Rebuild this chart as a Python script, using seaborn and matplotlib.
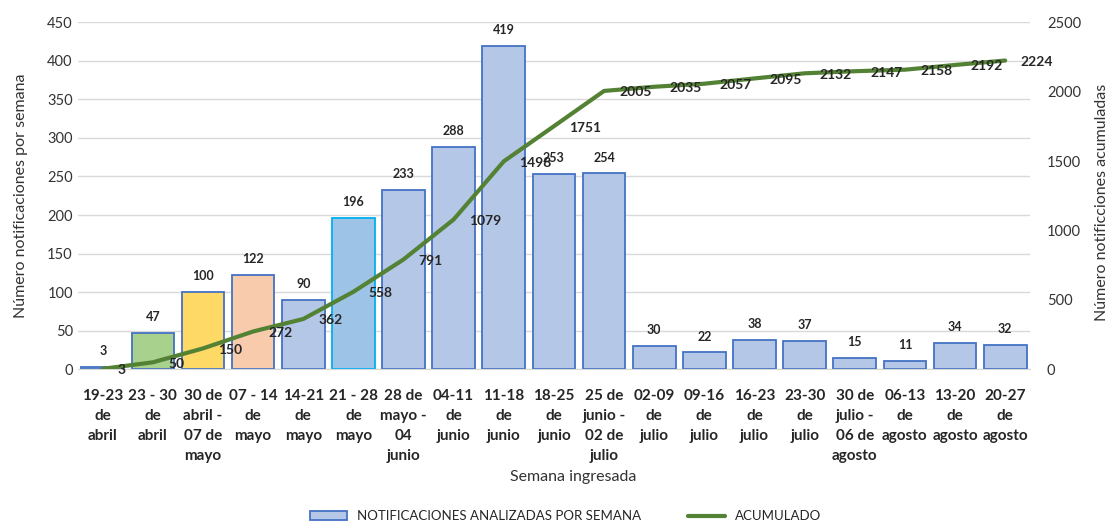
import numpy as np
import pandas as pd
import matplotlib.pyplot as plt
import seaborn as sns
from matplotlib.patches import Patch
from matplotlib.lines import Line2D

semanas = [
    "19-23\nde\nabril", "23 - 30\nde\nabril", "30 de\nabril -\n07 de\nmayo",
    "07 - 14\nde\nmayo", "14-21\nde\nmayo", "21 - 28\nde\nmayo",
    "28 de\nmayo -\n04\njunio", "04-11\nde\njunio", "11-18\nde\njunio",
    "18-25\nde\njunio", "25 de\njunio -\n02 de\njulio", "02-09\nde\njulio",
    "09-16\nde\njulio", "16-23\nde\njulio", "23-30\nde\njulio",
    "30 de\njulio -\n06 de\nagosto", "06-13\nde\nagosto", "13-20\nde\nagosto",
    "20-27\nde\nagosto",
]
por_semana = [3, 47, 100, 122, 90, 196, 233, 288, 419, 253, 254,
              30, 22, 38, 37, 15, 11, 34, 32]
acumulado = [3, 50, 150, 272, 362, 558, 791, 1079, 1498, 1751, 2005,
             2035, 2057, 2095, 2132, 2147, 2158, 2192, 2224]

azul = "#B4C7E7"
colores = [azul, "#A9D18E", "#FFD966", "#F8CBAD", azul, "#9DC3E6"] + [azul] * 13
bordes = ["#4472C4"] * 5 + ["#00B0F0"] + ["#4472C4"] * 13
verde = "#548235"

sns.set_style("white")
plt.rcParams['font.family'] = ['Lato', 'DejaVu Sans']

df = pd.DataFrame({"semana": semanas, "n": por_semana, "acum": acumulado})

fig = plt.figure(figsize=(11.09, 5.29), dpi=100)
ax = fig.add_axes([0.070, 0.302, 0.859, 0.656])

sns.barplot(data=df, x="semana", y="n", hue="semana", palette=colores,
            legend=False, width=0.85, ax=ax, saturation=1)
for p, ec in zip(ax.patches, bordes):
    p.set_edgecolor(ec)
    p.set_linewidth(1.3)

for i, v in enumerate(por_semana):
    ax.annotate(str(v), (i, v), xytext=(0, 7), textcoords="offset points",
                ha="center", va="bottom", fontsize=9, fontweight="bold")

ax.set_ylim(0, 450)
ax.set_yticks(range(0, 451, 50))
ax.set_xlim(-0.5, len(semanas) - 0.5)
ax.yaxis.grid(True, color="#D9D9D9", lw=1)
ax.set_axisbelow(True)
for s in ["top", "left", "right"]:
    ax.spines[s].set_visible(False)
ax.spines["bottom"].set_color("#D9D9D9")
ax.tick_params(axis="x", length=0, pad=14, labelsize=11)
ax.tick_params(axis="y", length=0, labelsize=10.5, labelcolor="#333333")
for t in ax.get_xticklabels():
    t.set_fontweight("bold")
    t.set_linespacing(1.55)
ax.set_xlabel("Semana ingresada", fontsize=11.5, color="#333333")
ax.xaxis.set_label_coords(0.52, -0.29)
ax.set_ylabel("Número notificaciones por semana", fontsize=11.5, color="#333333")
ax.yaxis.set_label_coords(-0.052, 0.5)

ax2 = ax.twinx()
sns.lineplot(x=np.arange(len(acumulado)), y=df["acum"], color=verde, lw=3, ax=ax2)
ax2.set_ylim(0, 2500)
ax2.set_yticks(range(0, 2501, 500))
for s in ["top", "left", "right", "bottom"]:
    ax2.spines[s].set_visible(False)
ax2.tick_params(axis="y", length=0, labelsize=10.5, labelcolor="#333333", pad=12)
ax2.set_ylabel("Número notificciones acumuladas", fontsize=11.5, color="#333333")
ax2.yaxis.set_label_coords(1.068, 0.48)

for i, v in enumerate(acumulado):
    ax2.annotate(str(v), (i, v), xytext=(11, -1), textcoords="offset points",
                 ha="left", va="center", fontsize=10, fontweight="bold")

handles = [Patch(facecolor=azul, edgecolor="#4472C4", lw=1.3),
           Line2D([], [], color=verde, lw=3)]
fig.legend(handles, ["NOTIFICACIONES ANALIZADAS POR SEMANA", "ACUMULADO"],
           loc="lower center", bbox_to_anchor=(0.51, -0.01), ncol=2,
           frameon=False, fontsize=9.5, columnspacing=3.5, handlelength=2.8)

fig.savefig("out.png", dpi=100)
